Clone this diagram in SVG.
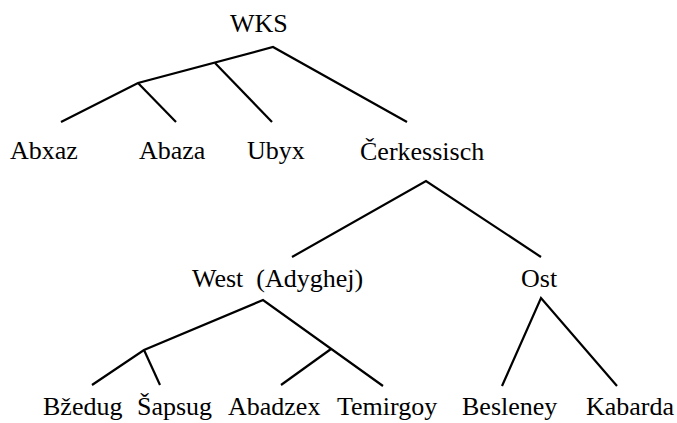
<svg xmlns="http://www.w3.org/2000/svg" width="677" height="423" viewBox="0 0 677 423">
<style>
text{font-family:"Liberation Serif","Times New Roman",serif;font-size:26px;fill:#000}
.e{stroke:#000;stroke-width:2.2;fill:none;stroke-linecap:butt;stroke-linejoin:miter}
</style>
<rect width="677" height="423" fill="#fff"/>
<g id="connectors">
<polyline class="e" points="61,122 138,83 273,47 407,122"/>
<line class="e" x1="138" y1="83" x2="176" y2="122"/>
<line class="e" x1="215" y1="63" x2="272" y2="122"/>
<polyline class="e" points="292,257 426,181 541,257"/>
<polyline class="e" points="92,385 144,350 263,300 383,386"/>
<line class="e" x1="144" y1="350" x2="160" y2="385"/>
<line class="e" x1="331" y1="349" x2="281" y2="385"/>
<polyline class="e" points="502,386 541,298 617,386"/>
</g>
<g id="n-wks"><text x="230" y="32">WKS</text></g>
<g id="n-abxaz"><text x="10" y="159">Abxaz</text></g>
<g id="n-abaza"><text x="139" y="159">Abaza</text></g>
<g id="n-ubyx"><text x="247" y="159">Ubyx</text></g>
<g id="n-cerkessisch"><text x="360" y="160">Čerkessisch</text></g>
<g id="n-west"><text x="192" y="287" xml:space="preserve">West  (Adyghej)</text></g>
<g id="n-ost"><text x="521" y="287">Ost</text></g>
<g id="n-bzedug"><text x="43" y="415">Bžedug</text></g>
<g id="n-sapsug"><text x="137" y="415">Šapsug</text></g>
<g id="n-abadzex"><text x="228" y="415">Abadzex</text></g>
<g id="n-temirgoy"><text x="337" y="415">Temirgoy</text></g>
<g id="n-besleney"><text x="462" y="415">Besleney</text></g>
<g id="n-kabarda"><text x="586" y="415">Kabarda</text></g>
</svg>
